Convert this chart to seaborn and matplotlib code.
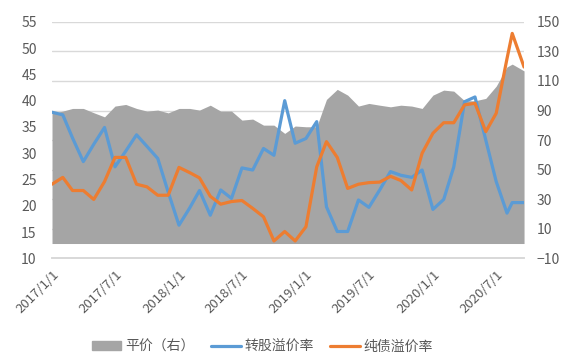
import matplotlib
matplotlib.use("Agg")
import matplotlib.pyplot as plt
import matplotlib.patches as mpatches
import matplotlib.lines as mlines
import seaborn as sns
import pandas as pd

# 日期：月度 + 最后两个非整月观测点
dates = list(pd.date_range("2017-01-01", "2020-08-01", freq="MS")) + \
    [pd.Timestamp("2020-08-16"), pd.Timestamp("2020-09-19")]

# 平价（右轴）
parity = [88.0, 89.6, 91.4, 91.4, 88.5, 85.7, 93.0, 94.1, 91.4, 89.6,
          90.3, 88.4, 91.4, 91.4, 90.3, 93.6, 89.6, 89.6, 83.5, 84.2,
          80.1, 80.1, 74.5, 79.5, 79.0, 79.0, 97.5, 104.3, 100.4, 93.0,
          94.8, 93.6, 92.5, 93.6, 93.0, 91.4, 100.4, 103.8, 103.1, 96.6,
          96.6, 98.2, 106.5, 119.5, 121.4, 116.8]

# 转股溢价率（左轴）
conv_premium = [37.8, 37.3, 32.9, 28.4, 31.7, 34.9, 27.4, 30.4, 33.5, 31.3,
                29.0, 22.6, 16.3, 19.6, 22.9, 18.2, 23.0, 21.4, 27.2, 26.8,
                30.9, 29.6, 40.0, 31.9, 32.8, 36.0, 19.8, 15.1, 15.1, 21.1,
                19.7, 23.0, 26.5, 25.8, 25.4, 26.8, 19.3, 21.2, 27.4, 39.8,
                40.7, 32.5, 24.6, 18.6, 20.6, 20.6]

# 纯债溢价率（左轴）
bond_premium = [24.1, 25.4, 22.9, 22.9, 21.2, 24.6, 29.2, 29.2, 24.1, 23.6,
                22.0, 22.0, 27.3, 26.3, 25.3, 21.8, 20.3, 20.8, 21.0, 19.5,
                17.9, 13.3, 15.1, 13.3, 16.0, 27.4, 32.2, 29.2, 23.3, 24.1,
                24.4, 24.5, 25.6, 24.8, 23.0, 30.0, 33.8, 35.8, 35.8, 39.2,
                39.5, 34.1, 37.6, 48.0, 52.8, 46.4]

tick_dates = pd.date_range("2017-01-01", "2020-07-01", freq="6MS")
tick_labels = [f"{d.year}/{d.month}/{d.day}" for d in tick_dates]

df = pd.DataFrame({"date": dates, "parity": parity,
                   "conv": conv_premium, "bond": bond_premium})

sns.set_theme(style="white")
plt.rcParams["font.family"] = ["Noto Sans CJK SC", "DejaVu Sans"]

GRAY = "#a5a5a5"
BLUE = "#5b9bd5"
ORANGE = "#ed7d31"
TXT = "#595959"

fig = plt.figure(figsize=(5.69, 3.58), dpi=100)
ax = fig.add_axes([0.0914, 0.2785, 0.8296, 0.6605])

# 面积图（右轴刻度），放在底层
ax.fill_between(df["date"], 0, df["parity"], color=GRAY, lw=0, zorder=2)
ax.set_ylim(-10, 150)
ax.set_yticks(range(-10, 151, 20))
ax.yaxis.grid(True, color="#d9d9d9", lw=1)
ax.set_axisbelow(True)

# 折线（左轴刻度）
ax2 = ax.twinx()
sns.lineplot(data=df, x="date", y="conv", ax=ax2, color=BLUE, lw=2.3)
sns.lineplot(data=df, x="date", y="bond", ax=ax2, color=ORANGE, lw=2.3)
ax2.set_ylim(10, 55)
ax2.set_yticks(range(10, 56, 5))
ax2.set_ylabel("")

# 左右刻度互换：折线用左轴，面积用右轴
ax.yaxis.tick_right()
ax2.yaxis.tick_left()

for a in (ax, ax2):
    for s in ("top", "left", "right"):
        a.spines[s].set_visible(False)
    a.spines["bottom"].set_color("#d9d9d9")
    a.set_xlim(dates[0], dates[-1])
    a.set_xlabel("")
ax.tick_params(axis="y", length=0, labelsize=10, labelcolor=TXT, pad=9)
ax2.tick_params(axis="y", length=0, labelsize=10, labelcolor=TXT, pad=11)

ax.set_xticks(tick_dates)
ax.set_xticklabels(tick_labels, rotation=45, ha="right", rotation_mode="anchor")
ax.tick_params(axis="x", length=4, color="#d9d9d9", labelsize=9.5,
               labelcolor=TXT, pad=3)
ax2.tick_params(axis="x", length=0, labelbottom=False)

handles = [mpatches.Patch(color=GRAY, label="平价（右）"),
           mlines.Line2D([], [], color=BLUE, lw=2.3, label="转股溢价率"),
           mlines.Line2D([], [], color=ORANGE, lw=2.3, label="纯债溢价率")]
fig.legend(handles=handles, loc="center", bbox_to_anchor=(0.461, 0.032),
           ncol=3, frameon=False, fontsize=10, labelcolor=TXT,
           handlelength=2.15, handleheight=0.6, handletextpad=0.25,
           columnspacing=1.2)

fig.savefig("out.png", dpi=100)
